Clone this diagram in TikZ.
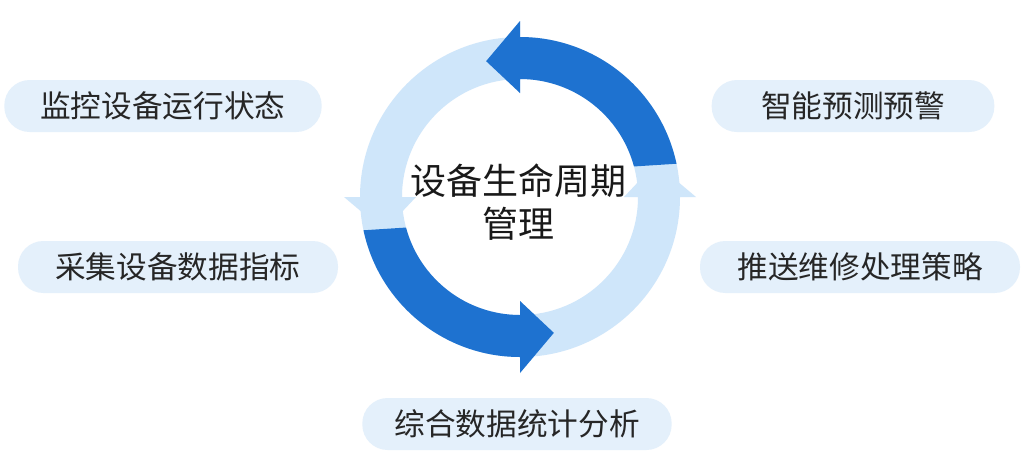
\documentclass[tikz,border=0pt]{standalone}
\usepackage{fontspec}
\newfontfamily\cjk{Noto Sans CJK SC}
\definecolor{darkb}{HTML}{1E72D0}
\definecolor{lightb}{HTML}{CFE6FA}
\definecolor{pill}{HTML}{E4F0FB}
\begin{document}
\begin{tikzpicture}[x=0.75pt,y=-0.75pt,
  pill/.style={fill=pill,rounded corners=19pt,minimum height=39pt,inner sep=0pt,font=\cjk\fontsize{23}{28}\selectfont,text=black!85},
  ctext/.style={font=\cjk\fontsize{27}{32}\selectfont,text=black!90,align=center}]
\useasboundingbox (0,0) rectangle (1026,455);
\fill[white] (0,0) rectangle (1026,455);
\begin{scope}[shift={(520,197)},x=0.75pt,y=0.75pt]
  \foreach \t in {90,180,270,0}{
    \fill[lightb] (\t-90:160) arc[start angle=\t-90,end angle=\t,radius=160] -- (\t:176) -- (\t+14:140) -- (\t:104) -- (\t:118) arc[start angle=\t,end angle=\t-90,radius=118] -- cycle;
  }
  \foreach \t in {90,270}{
    \fill[darkb] (\t-78:160) arc[start angle=\t-78,end angle=\t,radius=160] -- (\t:176) -- (\t+14:140) -- (\t:104) -- (\t:118) arc[start angle=\t,end angle=\t-75,radius=118] -- cycle;
  }
\end{scope}
\node[ctext] (c) at (518,202) {设备生命周期\\管理};
\node[pill,minimum width=238pt] (p1) at (163,106) {监控设备运行状态};
\node[pill,minimum width=240pt] (p2) at (178,267) {采集设备数据指标};
\node[pill,minimum width=212pt] (p3) at (853,106) {智能预测预警};
\node[pill,minimum width=240pt] (p4) at (860,267) {推送维修处理策略};
\node[pill,minimum width=232pt] (p5) at (517,424) {综合数据统计分析};
\end{tikzpicture}
\end{document}
